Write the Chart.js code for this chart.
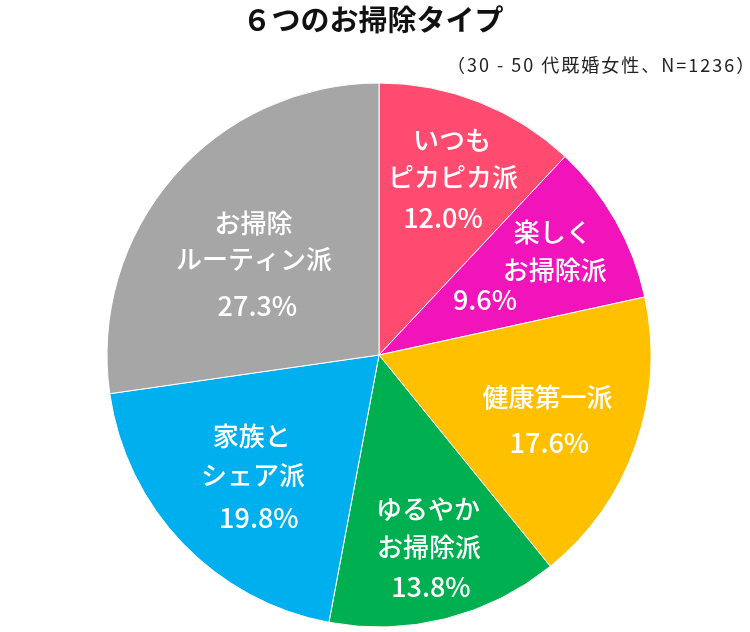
<!DOCTYPE html>
<html><head><meta charset="utf-8">
<script src="https://cdn.jsdelivr.net/npm/chart.js@4"></script>
<style>
html,body{margin:0;padding:0;background:#fff;}
#wrap{position:relative;width:750px;height:632px;overflow:hidden;}
#title{position:absolute;left:0;width:746px;top:0;text-align:center;font:bold 29px "Noto Sans CJK JP",sans-serif;line-height:36px;color:#111;}
#sub{position:absolute;left:447px;top:51px;font:18px "Noto Sans CJK JP",sans-serif;letter-spacing:2px;line-height:26px;color:#222;white-space:nowrap;}
canvas{position:absolute;left:0;top:0;}
</style></head>
<body><div id="wrap">
<canvas id="c" width="750" height="632"></canvas>
<div id="title">６つのお掃除タイプ</div>
<div id="sub">（30 - 50 代既婚女性、N=1236）</div>
</div>
<script>
const categories = ['いつもピカピカ派', '楽しくお掃除派', '健康第一派', 'ゆるやかお掃除派', '家族とシェア派', 'お掃除ルーティン派'];
const values = [12.0, 9.6, 17.6, 13.8, 19.8, 27.3];
const labelLines = [['いつも','ピカピカ派'], ['楽しく','お掃除派'], ['健康第一派'], ['ゆるやか','お掃除派'], ['家族と','シェア派'], ['お掃除','ルーティン派']];
const colors = ['#FF4B6F', '#F014BA', '#FFC000', '#00AF50', '#00B0EE', '#A6A6A6'];

// label placement inside each slice: [fraction of slice angle, fraction of radius]; last entry = percentage
const placements = [
  [[0.434,0.835],[0.523,0.709],[0.580,0.556]],
  [[0.335,0.783],[0.610,0.718],[0.563,0.439]],
  [[0.418,0.639],[0.626,0.705]],
  [[0.431,0.594],[0.492,0.729],[0.532,0.874]],
  [[0.659,0.555],[0.503,0.640],[0.363,0.743]],
  [[0.555,0.668],[0.464,0.578],[0.307,0.482]]
];

const sliceLabels = {
  id: 'sliceLabels',
  afterDatasetsDraw(chart) {
    const ctx = chart.ctx;
    const meta = chart.getDatasetMeta(0);
    ctx.save();
    ctx.fillStyle = '#fff';
    ctx.textAlign = 'center';
    ctx.textBaseline = 'middle';
    meta.data.forEach((arc, i) => {
      const p = arc.getProps(['x','y','startAngle','endAngle','outerRadius'], true);
      const lines = labelLines[i].concat([values[i].toFixed(1) + '%']);
      lines.forEach((txt, j) => {
        const [t, rf] = placements[i][j];
        const a = p.startAngle + t * (p.endAngle - p.startAngle);
        const r = rf * p.outerRadius;
        const isPct = j === lines.length - 1;
        ctx.font = isPct ? '500 27px "Noto Sans CJK JP", sans-serif' : '500 26px "Noto Sans CJK JP", sans-serif';
        ctx.fillText(txt, p.x + Math.cos(a) * r, p.y + Math.sin(a) * r);
      });
    });
    ctx.restore();
  }
};

new Chart(document.getElementById('c'), {
  type: 'pie',
  data: {
    labels: categories,
    datasets: [{ data: values, backgroundColor: colors, borderColor: '#fff', borderWidth: 1 }]
  },
  options: {
    responsive: false,
    animation: false,
    layout: { padding: { left: 106.5, right: 98.5, top: 82.5, bottom: 4.5 } },
    plugins: { legend: { display: false }, tooltip: { enabled: false }, title: { display: false } }
  },
  plugins: [sliceLabels]
});
</script>
</body></html>
